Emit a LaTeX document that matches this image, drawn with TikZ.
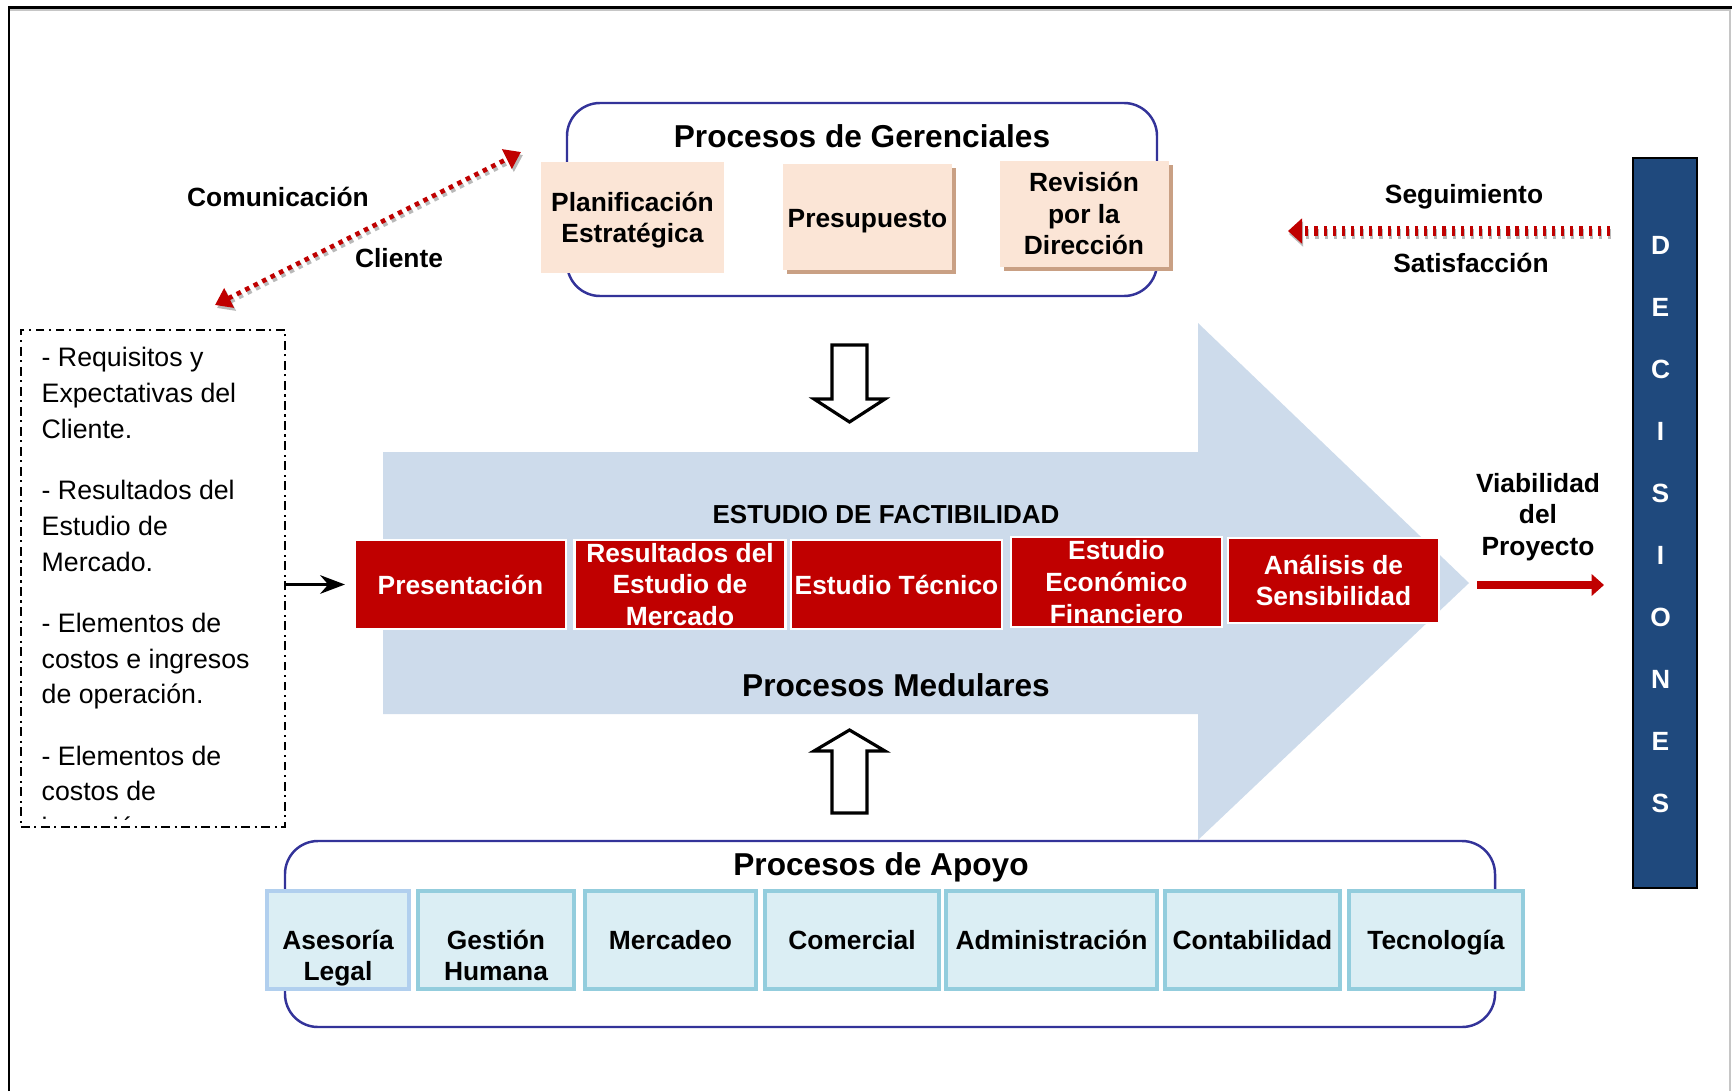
\documentclass[tikz,border=0pt]{standalone}
\usepackage{fontspec}
\setmainfont{Liberation Sans}
\usetikzlibrary{arrows.meta,shadows,positioning}
\definecolor{peach}{HTML}{FBE5D6}
\definecolor{peachshade}{HTML}{C9A084}
\definecolor{boxred}{HTML}{C00000}
\definecolor{navy}{HTML}{333399}
\definecolor{supfill}{HTML}{DBEEF4}
\definecolor{supline}{HTML}{93CDDD}
\definecolor{flow}{RGB}{205,219,235}
\definecolor{decblue}{HTML}{1F497D}

\begin{document}
\begin{tikzpicture}[x=1cm, y=1cm, >=Stealth,
    txt/.style={font=\fontsize{7.5}{9}\selectfont\bfseries, align=center},
    title/.style={font=\fontsize{9}{11}\selectfont\bfseries},
    peachbox/.style={txt, fill=peach, minimum width=1.69cm, minimum height=1.06cm, inner sep=1pt},
    shade/.style={drop shadow={shadow xshift=0.04cm, shadow yshift=-0.04cm, fill=peachshade, opacity=1}},
    redbox/.style={txt, fill=boxred, draw=white, line width=0.6pt, text=white, minimum width=2.11cm, minimum height=0.89cm, inner sep=1pt},
    supbox/.style={txt, fill=supfill, draw=supline, line width=0.9pt, minimum height=0.98cm, inner sep=1pt,
                   text height=5.5pt, text depth=0pt},
    twoline/.style={text height=23.3pt},
    groupbox/.style={draw=navy, line width=0.7pt, rounded corners=0.33cm},
    commline/.style={line width=1.3pt, dash pattern=on 1.3pt off 1.4pt},
    tip/.style={-{Triangle[width=6pt,length=4.5pt]}}]
  \useasboundingbox (0,0) rectangle (17.32,-10.91);
  % page frame
  \draw[gray!45, line width=0.4pt] (0.10,-0.10) -- (17.30,-0.10) -- (17.30,-10.91);
  \draw[line width=0.6pt] (0.09,-10.91) -- (0.09,-0.075) -- (17.32,-0.075);
  % core process arrow
  \fill[flow] (3.83,-4.52) -- (11.98,-4.52) -- (11.98,-3.23) -- (14.69,-5.83)
       -- (11.98,-8.40) -- (11.98,-7.14) -- (3.83,-7.14) -- cycle;
  \node[txt, font=\fontsize{7.4}{9}\selectfont\bfseries] (fact) at (8.86,-5.15) {ESTUDIO DE FACTIBILIDAD};
  \node[title] (med) at (8.96,-6.85) {Procesos Medulares};
  % management processes
  \node[groupbox, minimum width=5.90cm, minimum height=1.93cm] (ger) at (8.62,-1.995) {};
  \node[title] (gert) at (8.62,-1.36) {Procesos de Gerenciales};
  \node[peachbox, minimum width=1.83cm, minimum height=1.11cm] (plan) at (6.325,-2.175) {};
  \node[txt] at (6.325,-2.20) {Planificación\\Estratégica};
  \node[peachbox, shade] (pres) at (8.675,-2.165) {};
  \node[txt] at (8.675,-2.215) {Presupuesto};
  \node[peachbox, shade] (rev) at (10.84,-2.135) {Revisión\\por la\\Dirección};
  % customer communication
  \node[txt] (comu) at (2.78,-1.97) {Comunicación};
  \node[txt] (cli) at (3.99,-2.58) {Cliente};
  \coordinate (c1) at (2.15,-3.05);
  \coordinate (c2) at (5.21,-1.52);
  \draw[commline, gray!55, {Triangle[width=6pt,length=4.5pt]}-{Triangle[width=6pt,length=4.5pt]}]
       ([shift={(0.02,-0.03)}]c1) -- ([shift={(0.02,-0.03)}]c2);
  \draw[commline, boxred, {Triangle[width=6pt,length=4.5pt]}-{Triangle[width=6pt,length=4.5pt]}] (c1) -- (c2);
  % follow-up
  \node[txt] (seg) at (14.64,-1.97) {Seguimiento};
  \node[txt] (sat) at (14.71,-2.63) {Satisfacción};
  \coordinate (s1) at (16.10,-2.31);
  \coordinate (s2) at (12.88,-2.31);
  \draw[gray!55, line width=2.6pt, dash pattern=on 0.9pt off 1.7pt, -{Triangle[width=7pt,length=4pt]}]
       ([shift={(0.01,-0.03)}]s1) -- ([shift={(0.01,-0.03)}]s2);
  \draw[boxred, line width=2.6pt, dash pattern=on 0.9pt off 1.7pt, -{Triangle[width=7pt,length=4pt]}] (s1) -- (s2);
  % inputs
  \node[draw, line width=0.5pt, dash pattern=on 2.5pt off 1.3pt on 0.6pt off 1.3pt,
        minimum width=2.64cm, minimum height=4.97cm] (req) at (1.53,-5.785) {};
  \begin{scope}
    \clip (0.22,-3.31) rectangle (2.84,-8.19);
    \node[anchor=north west, align=left, inner sep=0, font=\fontsize{7.6}{10.2}\selectfont] (reqt) at (0.41,-3.465)
      {- Requisitos y\\ Expectativas del\\ Cliente.\\[7.2pt]
       - Resultados del\\ Estudio de\\ Mercado.\\[7.2pt]
       - Elementos de\\ costos e ingresos\\ de operación.\\[7.2pt]
       - Elementos de\\ costos de\\ inversión.};
  \end{scope}
  % feasibility steps
  \node[redbox] (pr) at (4.605,-5.845) {Presentación};
  \node[redbox] (res) at (6.80,-5.845) {Resultados del\\Estudio de\\Mercado};
  \node[redbox] (tec) at (8.965,-5.845) {Estudio Técnico};
  \node[redbox] (eco) at (11.165,-5.82) {Estudio\\Económico\\Financiero};
  \node[redbox, minimum height=0.85cm] (ana) at (13.335,-5.805) {Análisis de\\Sensibilidad};
  \draw[->, line width=0.9pt] (req.east |- pr.west) -- ([xshift=-0.09cm]pr.west);
  % output
  \node[txt] (via) at (15.38,-5.17) {Viabilidad\\del\\Proyecto};
  \coordinate (v1) at (14.77,-5.85);
  \coordinate (v2) at (16.04,-5.85);
  \draw[boxred, line width=2pt, -{Triangle[width=6pt,length=3.5pt]}] (v1) -- (v2);
  % decisions
  \node[draw, fill=decblue, line width=0.6pt, minimum width=0.64cm, minimum height=7.30cm] (dec) at (16.65,-5.23) {};
  \foreach \l [count=\i from 0] in {D,E,C,I,S,I,O,N,E,S}
    \node[txt, text=white] at (16.605,-2.45-0.621*\i) {\l};
  % hollow arrows
  \draw[line width=0.9pt, fill=white] (8.32,-3.45) -- (8.67,-3.45) -- (8.67,-3.99) -- (8.85,-3.99)
       -- (8.495,-4.22) -- (8.14,-3.99) -- (8.32,-3.99) -- cycle;
  \draw[line width=0.9pt, fill=white] (8.32,-8.13) -- (8.67,-8.13) -- (8.67,-7.51) -- (8.85,-7.51)
       -- (8.495,-7.30) -- (8.14,-7.51) -- (8.32,-7.51) -- cycle;
  % support processes
  \node[groupbox, minimum width=12.10cm, minimum height=1.86cm] (apo) at (8.90,-9.34) {};
  \node[title] (apot) at (8.81,-8.67) {Procesos de Apoyo};
  \node[supbox, twoline, draw=blue!15!supline!60, minimum width=1.42cm] (leg) at (3.38,-9.40) {Asesoría\\Legal};
  \node[supbox, twoline, minimum width=1.56cm] (hum) at (4.96,-9.40) {Gestión\\Humana};
  \node[supbox, minimum width=1.71cm] (mer) at (6.705,-9.40) {Mercadeo};
  \node[supbox, minimum width=1.74cm] (com) at (8.52,-9.40) {Comercial};
  \node[supbox, minimum width=2.11cm] (adm) at (10.515,-9.40) {Administración};
  \node[supbox, minimum width=1.75cm] (con) at (12.525,-9.40) {Contabilidad};
  \node[supbox, minimum width=1.74cm] (tecn) at (14.36,-9.40) {Tecnología};
\end{tikzpicture}
\end{document}
